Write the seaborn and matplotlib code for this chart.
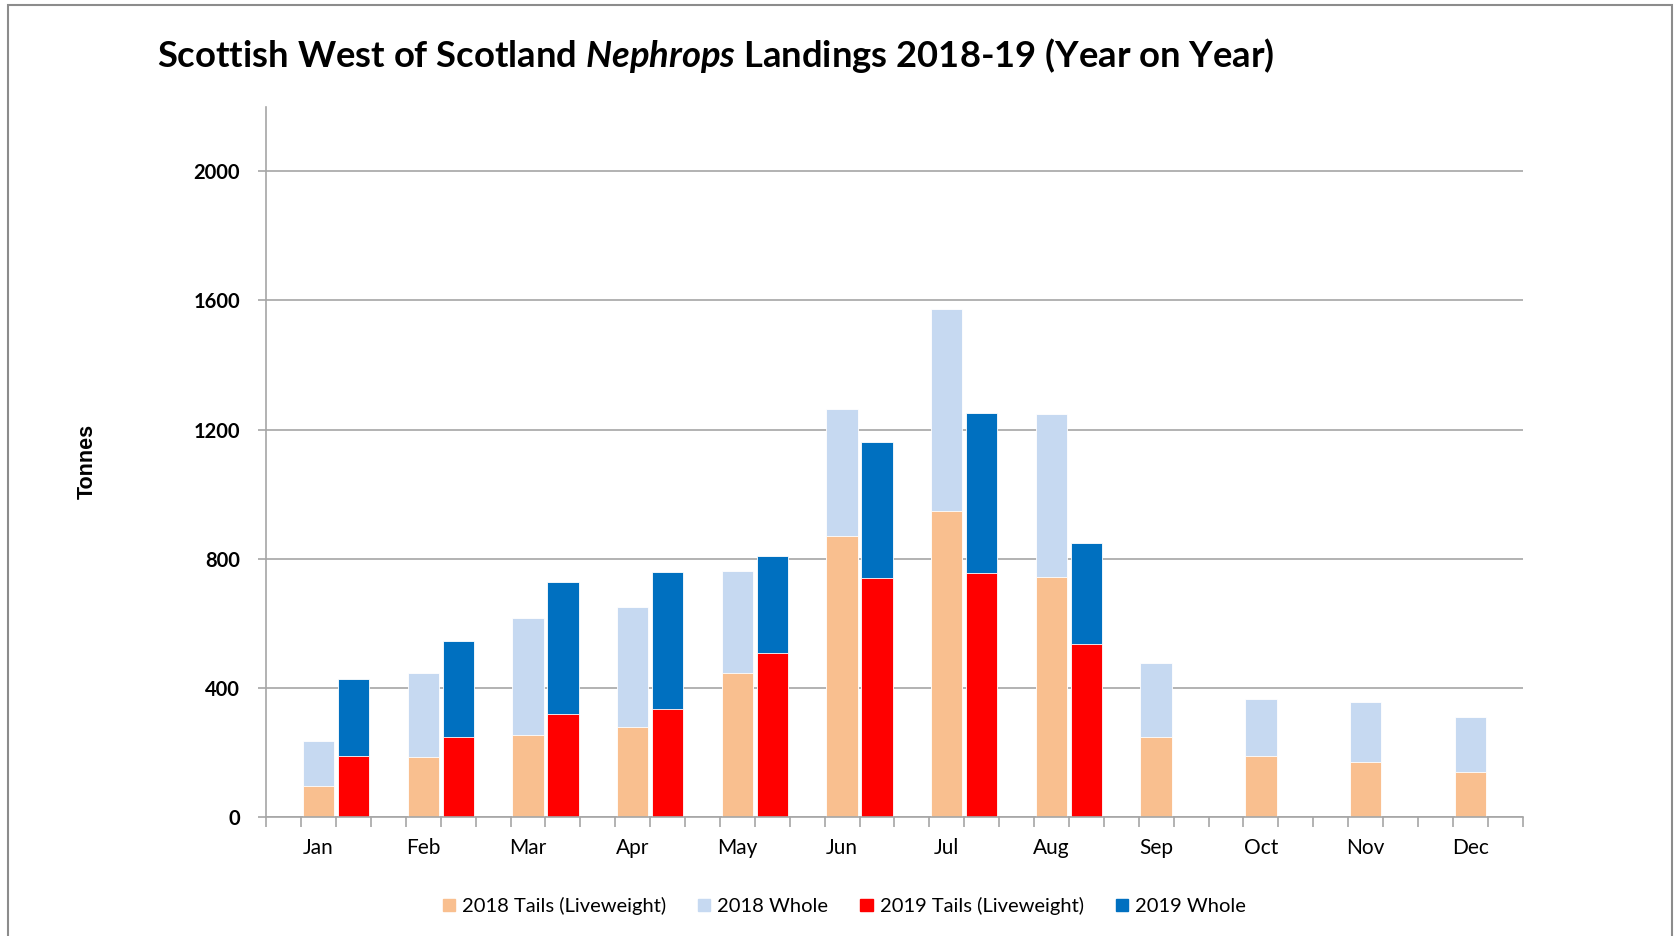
import pandas as pd
import seaborn as sns
import matplotlib.pyplot as plt
from matplotlib.patches import Patch, Rectangle

months = ['Jan', 'Feb', 'Mar', 'Apr', 'May', 'Jun',
          'Jul', 'Aug', 'Sep', 'Oct', 'Nov', 'Dec']
tails_2018 = [96, 185, 254, 280, 445, 871, 948, 744, 249, 189, 171, 139]
total_2018 = [237, 447, 618, 650, 761, 1264, 1572, 1249, 476, 366, 356, 310]
tails_2019 = [189, 247, 320, 336, 507, 740, 755, 536]
total_2019 = [428, 545, 727, 760, 810, 1162, 1252, 850]
y_ticks = [0, 400, 800, 1200, 1600, 2000]

c_tail18 = '#F9BF8F'
c_whole18 = '#C6D9F1'
c_tail19 = '#FF0000'
c_whole19 = '#0070C0'

plt.rcParams['mathtext.fontset'] = 'custom'
plt.rcParams['mathtext.it'] = 'Lato:italic:bold'
plt.rcParams['mathtext.rm'] = 'Lato:bold'

# three slots per month: blank, 2018, 2019
slots = []
for m in months:
    slots += [m + '_gap', m + '_2018', m + '_2019']

df18 = pd.DataFrame({'slot': [m + '_2018' for m in months],
                     'tails': tails_2018, 'total': total_2018})
df19 = pd.DataFrame({'slot': [m + '_2019' for m in months[:len(tails_2019)]],
                     'tails': tails_2019, 'total': total_2019})

fig = plt.figure(figsize=(16.75, 9.36), dpi=100)
ax = fig.add_axes([0.159, 0.127, 0.750, 0.759])

kw = dict(order=slots, width=0.9, saturation=1, errorbar=None, ax=ax,
          edgecolor='white', linewidth=0.6)
sns.barplot(data=df18, x='slot', y='total', color=c_whole18, **kw)
sns.barplot(data=df18, x='slot', y='tails', color=c_tail18, **kw)
sns.barplot(data=df19, x='slot', y='total', color=c_whole19, **kw)
sns.barplot(data=df19, x='slot', y='tails', color=c_tail19, **kw)

ax.set_xlim(-0.5, len(slots) - 0.5)
ax.set_ylim(0, 2200)
ax.set_yticks(y_ticks)
ax.set_yticklabels([str(v) for v in y_ticks], fontsize=14.5, fontweight='bold',
                   family='Lato')
ax.yaxis.grid(True, color='#A6A6A6', linewidth=1.2)
ax.set_axisbelow(True)

ax.set_xticks([3 * i + 1 for i in range(len(months))])
ax.set_xticklabels(months, fontsize=15, family='Lato')
ax.set_xticks([i - 0.5 for i in range(len(slots) + 1)], minor=True)
ax.tick_params(axis='x', which='major', length=0, pad=15)
ax.tick_params(axis='x', which='minor', length=7, color='#A6A6A6', width=1.2)
ax.tick_params(axis='y', length=6, color='#A6A6A6', width=1.2, pad=13)

for s in ['top', 'right']:
    ax.spines[s].set_visible(False)
for s in ['left', 'bottom']:
    ax.spines[s].set_color('#A6A6A6')
    ax.spines[s].set_linewidth(1.2)

ax.set_xlabel('')
ax.set_ylabel('')
fig.text(0.052, 0.507, 'Tonnes', rotation=90, ha='center', va='center',
         fontsize=15.5, fontweight='bold', family='Liberation Sans')

fig.text(0.094, 0.941, 'Scottish West of Scotland $\\it{Nephrops}$ '
         'Landings 2018-19 (Year on Year)', ha='left', va='center',
         fontsize=26.2, fontweight='bold', family='Lato')

handles = [Patch(color=c_tail18, label='2018 Tails (Liveweight)'),
           Patch(color=c_whole18, label='2018 Whole'),
           Patch(color=c_tail19, label='2019 Tails (Liveweight)'),
           Patch(color=c_whole19, label='2019 Whole')]
fig.legend(handles=handles, loc='center', bbox_to_anchor=(0.504, 0.032),
           ncol=4, frameon=False, prop={'family': 'Lato', 'size': 14.5},
           handlelength=0.6, handleheight=0.6, handletextpad=0.35,
           columnspacing=1.6)

fig.patches.append(Rectangle((0.005, -0.05), 0.993, 1.045,
                             transform=fig.transFigure, fill=False,
                             edgecolor='#8C8C8C', linewidth=1.5))

fig.savefig('out.png', dpi=100)
